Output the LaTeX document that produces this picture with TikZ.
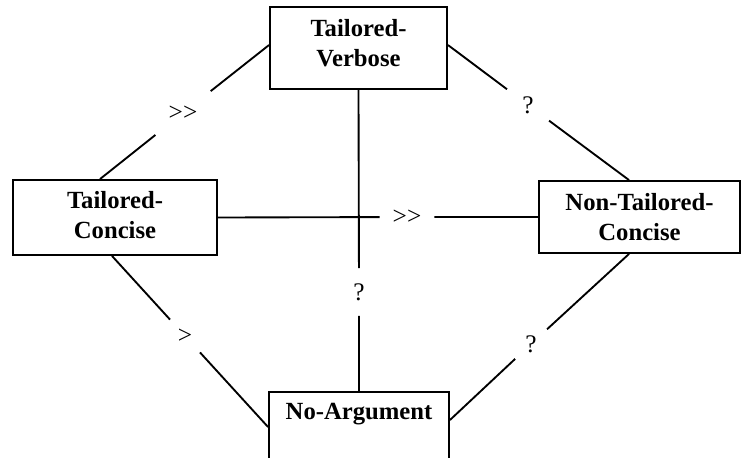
\documentclass[tikz,border=0pt]{standalone}
\usepackage{fontspec}
\setmainfont{Liberation Serif}
\begin{document}
\begin{tikzpicture}[x=0.75pt,y=-0.75pt,
  box/.style={draw,line width=1.4pt,rectangle,align=center,inner sep=0pt,
    font=\fontsize{18.5}{22.5}\selectfont\bfseries},
  rel/.style={circle,inner sep=0pt,font=\fontsize{19}{22}\selectfont},
  link/.style={line width=1.4pt}]
% page
\fill[white] (0,0) rectangle (741,457);
\useasboundingbox (0,0) rectangle (741,457);

% conditions
\node[box,minimum width=132.75pt,minimum height=61.5pt,text depth=7.5pt] (tv) at (358.5,48) {Tailored-\\Verbose};
\node[box,minimum width=153pt,minimum height=56.25pt,text depth=3.75pt] (tc) at (115,217.5) {Tailored-\\Concise};
\node[box,minimum width=150.75pt,minimum height=54pt] (ntc) at (639.5,217) {Non-Tailored-\\Concise};
\node[box,anchor=north,minimum width=135pt,inner ysep=8.25pt,text height=12.3pt,text depth=45pt] (na) at (359,391) {No-Argument};

% relation labels
\node[rel,minimum size=52.5pt] (r1) at (183,113) {{>}{>}};
\node[rel,minimum size=39pt] (r2) at (528,105) {?};
\node[rel,minimum size=33pt] (r3) at (185,336) {>};
\node[rel,minimum size=32.25pt] (r4) at (531,344) {?};
\node[rel,minimum size=35.25pt] (r5) at (359,292) {?};
\node[rel,minimum size=40.5pt] (r6) at (407,217) {{>}{>}};

% comparisons
\draw[link] ([xshift=-11.25pt]tc.north) -- (r1) -- ([yshift=2.25pt]tv.west);
\draw[link] ([yshift=2.25pt]tv.east) -- (r2) -- ([xshift=-7.875pt]ntc.north);
\draw[link] (tc.east) -- (r6) -- (ntc.west);
\draw[link] (tv.south) -- (r5) -- (na.north);
\draw[link] ([xshift=-2.25pt]tc.south) -- (r3) -- ([yshift=-27pt]na.north west);
\draw[link] ([xshift=-7.875pt]ntc.south) -- (r4) -- ([yshift=-21.75pt]na.north east);
\end{tikzpicture}
\end{document}
